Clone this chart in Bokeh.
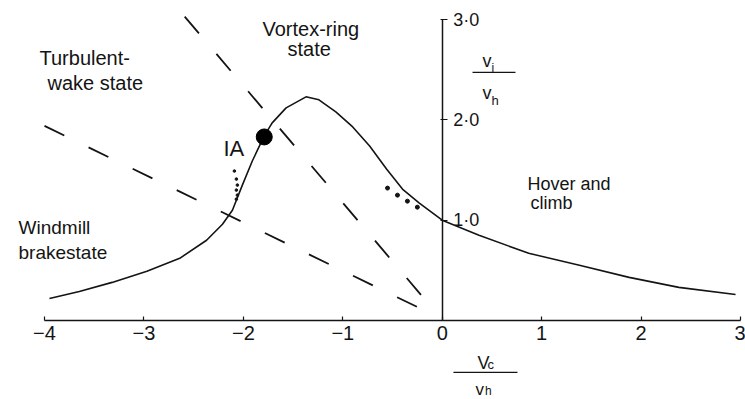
from bokeh.plotting import figure
from bokeh.models import LinearAxis, FixedTicker, Range1d
from bokeh.embed import file_html
from bokeh.resources import INLINE
from bokeh.core.properties import value

# ---- data ----
vc_curve = [-3.95, -3.65, -3.32, -2.97, -2.64, -2.37, -2.21, -2.11, -2.01, -1.91,
            -1.79, -1.71, -1.57, -1.37, -1.24, -1.07, -0.90, -0.73, -0.56, -0.40,
            -0.23, 0.00, 0.37, 0.87, 1.38, 1.88, 2.38, 2.95]
vi_curve = [0.22, 0.29, 0.38, 0.49, 0.62, 0.80, 0.96, 1.10, 1.35, 1.59,
            1.84, 1.97, 2.12, 2.23, 2.20, 2.08, 1.93, 1.74, 1.51, 1.31,
            1.17, 1.00, 0.85, 0.67, 0.55, 0.43, 0.33, 0.26]

# dashed boundary lines (end points)
steep_vc = [-2.59, -0.20]
steep_vi = [3.03, 0.24]
shallow_vc = [-4.00, -0.21]
shallow_vi = [1.94, 0.115]

# point IA
ia_vc = [-1.79]
ia_vi = [1.83]

# dotted test points
dots_left_vc = [-2.09, -2.07, -2.06, -2.07, -2.06, -2.07]
dots_left_vi = [1.49, 1.41, 1.35, 1.30, 1.25, 1.21]
dots_right_vc = [-0.55, -0.45, -0.35, -0.25]
dots_right_vi = [1.32, 1.25, 1.19, 1.13]

x_ticks = [-4, -3, -2, -1, 0, 1, 2, 3]
x_tick_labels = ["\u22124", "\u22123", "\u22122", "\u22121", "0", "1", "2", "3"]
y_ticks = [1, 2, 3]
y_tick_labels = ["1\u00b70", "2\u00b70", "3\u00b70"]

FONT = value("Liberation Sans")
INK = "#141414"

p = figure(width=745, height=399,
           x_range=Range1d(-4.4425, 3.0503), y_range=Range1d(-0.7876, 3.1904),
           output_backend="svg", toolbar_location=None,
           x_axis_type=None, y_axis_type=None, min_border=0)
p.outline_line_color = None
p.background_fill_color = "white"
p.border_fill_color = "white"

xax = LinearAxis(fixed_location=0, bounds=(-4, 3),
                 ticker=FixedTicker(ticks=x_ticks),
                 major_label_overrides={t: s for t, s in zip(x_ticks, x_tick_labels)},
                 major_tick_in=4, major_tick_out=0, minor_tick_line_color=None,
                 axis_line_width=1.5, axis_line_color=INK,
                 major_tick_line_color=INK, major_tick_line_width=1.2,
                 major_label_text_font="Liberation Sans",
                 major_label_text_font_size="20px", major_label_text_color=INK,
                 major_label_standoff=5)
p.add_layout(xax, "below")

yax = LinearAxis(fixed_location=0, bounds=(0, 3),
                 ticker=FixedTicker(ticks=y_ticks),
                 major_label_overrides={t: s for t, s in zip(y_ticks, y_tick_labels)},
                 major_tick_in=2, major_tick_out=5, minor_tick_line_color=None,
                 axis_line_width=1.5, axis_line_color=INK,
                 major_tick_line_color=INK, major_tick_line_width=1.2,
                 major_label_text_font="Liberation Sans",
                 major_label_text_font_size="18px", major_label_text_color=INK,
                 major_label_standoff=6)
p.add_layout(yax, "right")

# dashed lines
p.line(steep_vc, steep_vi, line_color=INK, line_width=1.8, line_dash="22 27")
p.line(shallow_vc, shallow_vi, line_color=INK, line_width=1.8, line_dash="22 27")

# main curve
p.line(vc_curve, vi_curve, line_color=INK, line_width=1.6)

# points
p.scatter(ia_vc, ia_vi, size=16, color="black")
p.scatter(dots_left_vc, dots_left_vi, size=2.6, color=INK)
p.scatter(dots_right_vc, dots_right_vi, size=4, color=INK)

# region texts
def txt(x, y, s, size="20px", align="left", base="alphabetic"):
    p.text(x=[x], y=[y], text=[s], text_font=FONT, text_font_size=size,
           text_color=INK, text_align=align, text_baseline=base)

txt(-4.050, 2.622, "Turbulent-")
txt(-3.970, 2.363, "wake state")
txt(-1.808, 2.911, "Vortex-ring")
txt(-1.556, 2.702, "state")
txt(0.858, 1.356, "Hover and", size="18px")
txt(0.888, 1.176, "climb", size="18px")
txt(-4.261, 0.927, "Windmill", size="19px")
txt(-4.261, 0.678, "brakestate", size="19px")
txt(-2.200, 1.715, "IA", size="22px")

# y-axis label  v_i / v_h
txt(0.405, 2.592, "v", size="18px")
txt(0.496, 2.522, "i", size="12px")
p.segment(x0=[0.305], y0=[2.473], x1=[0.737], y1=[2.473], line_color=INK, line_width=1.3)
txt(0.405, 2.273, "v", size="18px")
txt(0.496, 2.193, "h", size="13px")

# x-axis label  V_c / v_h
txt(0.355, -0.419, "V", size="18px")
txt(0.455, -0.439, "c", size="13px")
p.segment(x0=[0.113], y0=[-0.518], x1=[0.757], y1=[-0.518], line_color=INK, line_width=1.3)
txt(0.335, -0.688, "v", size="17px")
txt(0.430, -0.698, "h", size="12px")

open("out.html", "w").write(file_html(p, INLINE))
